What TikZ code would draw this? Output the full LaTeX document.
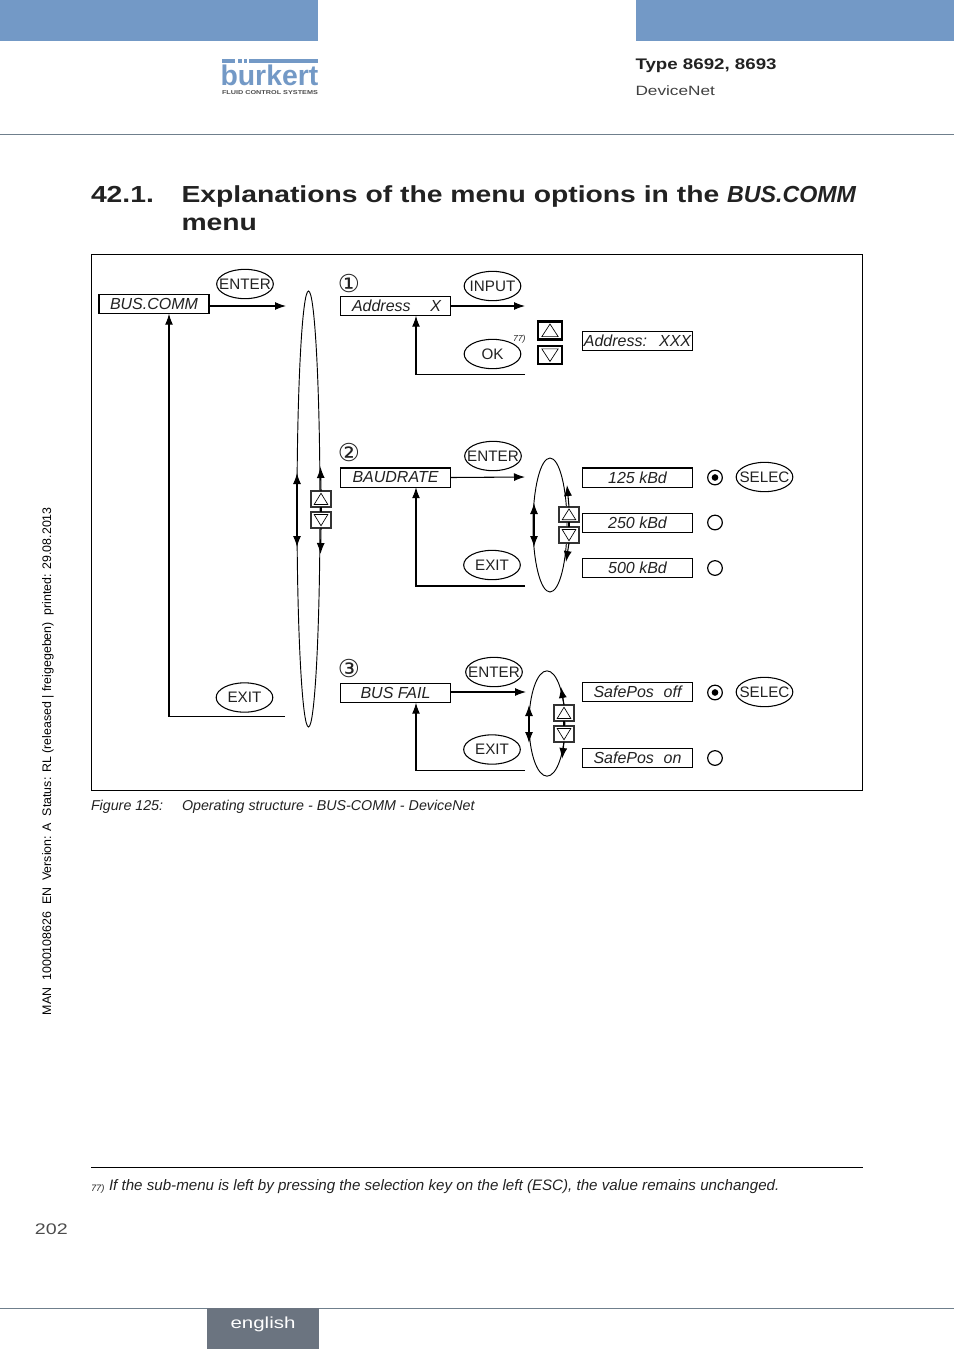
\documentclass[tikz,border=0pt]{standalone}
\usepackage{fontspec}
\usetikzlibrary{shapes.geometric,arrows.meta,calc}
\setmainfont{Liberation Sans}
\newfontfamily\wide[FakeStretch=1.28]{Liberation Sans}
\newfontfamily\widebold[FakeStretch=1.22]{Liberation Sans Bold}
\newfontfamily\boldit{Liberation Sans Bold Italic}
\newfontfamily\logofont{Liberation Sans Bold}
\newfontfamily\symfont{DejaVu Sans}
\definecolor{bk}{HTML}{7399C6}
\definecolor{tabgrey}{HTML}{6B7480}
\definecolor{rulec}{HTML}{6F7F8C}
\definecolor{txt}{HTML}{222222}
\newcommand{\zw}[1]{\raisebox{-.6pt}{\makebox[0pt]{#1}}}
\newcommand{\lt}[1]{\raisebox{-.7pt}{#1}}
\tikzset{
  x=.75pt,y=-.75pt,
  every node/.style={text=txt,inner sep=0pt,outer sep=0pt},
  lbl/.style={font=\fontsize{12}{14}\selectfont\itshape,draw=black,line width=1.1pt,fill=white,minimum width=82.5pt,minimum height=14.6pt},
  key/.style={ellipse,draw=black,line width=.8pt,fill=white,minimum width=42.5pt,minimum height=22pt,font=\fontsize{11.4}{14}\selectfont},
  btn/.style={draw=black!80,line width=1.3pt,fill=white},
  btnk/.style={draw=black,line width=1.6pt,fill=white},
  tri/.style={draw=black,line width=.5pt,fill=white},
  radio/.style={circle,draw=black,line width=.9pt,minimum size=11pt},
  dot/.style={circle,fill=black,minimum size=5pt},
  conn/.style={draw=black,line width=.8pt},
  arr/.style={conn,-{Latex[length=8.25pt,width=6pt]}},
  arrb/.style={conn,{Latex[length=8.25pt,width=6pt]}-{Latex[length=8.25pt,width=6pt]}},
  loopshape/.style={ellipse,draw=black,line width=.7pt},
  num/.style={font=\symfont\fontsize{18.5}{18.5}\selectfont},
  title/.style={anchor=base west,font=\widebold\fontsize{17.4}{20}\selectfont},
}
\newcommand{\upbtn}[6][btn]{% style, name, cx, cy, w, h
  \node[#1,minimum width=#5*.75pt,minimum height=#6*.75pt] (#2) at (#3,#4) {};
  \draw[tri] ($(#2.center)+(-.34*#5,.34*#6)$) -- ($(#2.center)+(.34*#5,.34*#6)$) -- ($(#2.center)+(0,-.36*#6)$) -- cycle;
}
\newcommand{\dnbtn}[6][btn]{%
  \node[#1,minimum width=#5*.75pt,minimum height=#6*.75pt] (#2) at (#3,#4) {};
  \draw[tri] ($(#2.center)+(-.34*#5,-.34*#6)$) -- ($(#2.center)+(.34*#5,-.34*#6)$) -- ($(#2.center)+(0,.36*#6)$) -- cycle;
}
\begin{document}
\begin{tikzpicture}
\useasboundingbox (0,0) rectangle (954,1350);
% header
\fill[bk] (0,0) rectangle (318,41);
\fill[bk] (636,0) rectangle (954,41);
\draw[rulec,line width=.6pt] (0,134.5) -- (954,134.5);
% logo
\node[anchor=base west,text=bk,font=\logofont\fontsize{21.3}{24}\selectfont] (logo) at (220.5,85.5) {bürkert};
\fill[white] (236,62) rectangle (258,69.5);
\fill[bk] (222,59) rectangle (235,63);
\fill[bk] (238,59) rectangle (241.5,63);
\fill[bk] (243.5,59) rectangle (247,63);
\fill[bk] (249,59) rectangle (318,63);
\node[anchor=base west,text=black!70,font=\wide\bfseries\fontsize{4.25}{5}\selectfont] (logosub) at (222,94) {FLUID CONTROL SYSTEMS};
% header right
\node[anchor=base west,font=\widebold\fontsize{11.5}{12}\selectfont] (type) at (635.5,69) {Type 8692, 8693};
\node[anchor=base west,font=\wide\fontsize{10.1}{12}\selectfont,text=black!75] (dn) at (635.5,95) {DeviceNet};
% title
\node[title] (t1) at (91,202) {42.1.};
\node[title] (t2) at (181.5,202) {Explanations of the menu options in the {\boldit BUS.COMM}};
\node[title] (t3) at (181.5,230) {menu};
% frame
\draw[black,line width=.7pt] (91.5,254.5) rectangle (862.5,790.5);
% loops
\node[loopshape,minimum width=17.25pt,minimum height=327pt] (loopA) at (308.5,509) {};
\node[loopshape,minimum width=25.5pt,minimum height=100.5pt] (loopB) at (550,525) {};
\node[loopshape,minimum width=27pt,minimum height=79pt] (loopC) at (547,723.5) {};
% coordinates
\coordinate (aUp) at (297,473);
\coordinate (aDn) at (297,547);
\coordinate (aRU) at (320.5,467);
\coordinate (aRD) at (320.5,554);
\coordinate (bUp) at (534,503);
\coordinate (bDn) at (534,547);
\coordinate (bRU) at (567,485);
\coordinate (bRD) at (566,562);
\coordinate (cUp) at (529,705);
\coordinate (cDn) at (529,743);
\coordinate (cRU) at (561,687);
\coordinate (cRD) at (562,759);
\coordinate (tBus) at (286,306);
\coordinate (tAddr) at (525,306);
\coordinate (tBaud) at (525,477);
\coordinate (tFail) at (526,692);
\coordinate (rBus) at (285,716.5);
\coordinate (rBusC) at (169,716.5);
\coordinate (rAddr) at (525,374.5);
\coordinate (rAddrC) at (416,374.5);
\coordinate (rBaud) at (525,586);
\coordinate (rBaudC) at (416,586);
\coordinate (rFail) at (525,770.5);
\coordinate (rFailC) at (416,770.5);
% label boxes
\node[lbl] (bus) at (154,304) {BUS.COMM};
\node[lbl] (addr) at (395.5,306) {\hspace{1.5pt}\makebox[66.75pt][s]{Address\hfill X}};
\node[lbl] (baud) at (395.5,477.5) {\lt{BAUDRATE}};
\node[lbl] (fail) at (395.5,693) {BUS FAIL};
\node[lbl] (v125) at (637.5,477.5) {\lt{125 kBd}};
\node[lbl] (v250) at (637.5,523) {\lt{250 kBd}};
\node[lbl] (v500) at (637.5,568) {\lt{500 kBd}};
\node[lbl] (off) at (637.5,692) {\makebox[66pt][s]{SafePos\hfill off}};
\node[lbl] (on) at (637.5,758) {\makebox[66pt][s]{SafePos\hfill on}};
\node[lbl] (addrv) at (637.5,341) {\lt{\makebox[80.5pt][s]{Address:\hfill XXX}}};
% connectors
\draw[arr] (bus.east |- tBus) -- (tBus);
\draw[arr] (addr.east) -- (tAddr);
\draw[arr] (baud.east) -- (tBaud);
\draw[arr] (fail.east |- tFail) -- (tFail);
\draw[arr] (rBus) -- (rBusC) -- (rBusC |- bus.south);
\draw[arr] (rAddr) -- (rAddrC) -- (rAddrC |- addr.south);
\draw[arr] (rBaud) -- (rBaudC) -- (rBaudC |- baud.south);
\draw[arr] (rFail) -- (rFailC) -- (rFailC |- fail.south);
\draw[arrb] (aUp) -- (aDn);
\draw[arrb] (bUp) -- (bDn);
\draw[arrb] (cUp) -- (cDn);
% buttons
\upbtn{bA}{321}{499}{20}{16}
\dnbtn{bB}{321}{520}{20}{16}
\upbtn{bC}{569}{514.5}{20}{15.5}
\dnbtn{bD}{569}{535}{20}{16}
\upbtn{bE}{564}{713}{20}{16}
\dnbtn{bF}{564}{734}{20}{16}
\upbtn[btnk]{bG}{550}{330.5}{24}{18}
\dnbtn[btnk]{bH}{550}{355}{24}{18}
\draw[conn] (bA.south) -- (bB.north);
\draw[conn] (bC.south) -- (bD.north);
\draw[conn] (bE.south) -- (bF.north);
\draw[arr] (bA.north) -- (aRU);
\draw[arr] (bB.south) -- (aRD);
\draw[arr] (bC.north) -- (bRU);
\draw[arr] (bD.south) -- (bRD);
\draw[arr] (bE.north) -- (cRU);
\draw[arr] (bF.south) -- (cRD);
% keys
\node[key] (kEnterA) at (245,284) {\zw{ENTER}};
\node[key] (kExitA) at (244.5,697.5) {\zw{EXIT}};
\node[key] (kInput) at (492.5,286) {\zw{INPUT}};
\node[key] (kOk) at (492.5,354) {\zw{OK}};
\node[anchor=base west,font=\fontsize{6.5}{7}\selectfont\itshape] (fn) at (513,341) {77)};
\node[key] (kEnterB) at (493,456) {\zw{ENTER}};
\node[key] (kExitB) at (492,565) {\zw{EXIT}};
\node[key] (kEnterC) at (494,672) {\zw{ENTER}};
\node[key] (kExitC) at (492,749.5) {\zw{EXIT}};
\node[key] (kSelA) at (764.5,477) {\zw{SELEC}};
\node[key] (kSelB) at (764.5,692) {\zw{SELEC}};
% numbers
\node[num] (n1) at (349,283.5) {①};
\node[num] (n2) at (349,452.5) {②};
\node[num] (n3) at (349,668.5) {③};
% radios
\node[radio] (r1) at (715,477.5) {};
\node[dot] (r1d) at (715,477.5) {};
\node[radio] (r2) at (715,522.5) {};
\node[radio] (r3) at (715,568) {};
\node[radio] (r4) at (715,692.5) {};
\node[dot] (r4d) at (715,692.5) {};
\node[radio] (r5) at (715,758) {};
% caption
\node[anchor=base west,font=\fontsize{10.7}{12}\selectfont\itshape] (cap1) at (91,810) {Figure 125:};
\node[anchor=base west,font=\fontsize{10.7}{12}\selectfont\itshape] (cap2) at (182,810) {Operating structure - BUS-COMM - DeviceNet};
% side
\node[rotate=90,anchor=base west,font=\fontsize{9.3}{10}\selectfont,text=black] (side) at (51,1015) {MAN\ \ 1000108626\ \ EN\ \ Version: A\ \ Status: RL (released | freigegeben)\ \ printed: 29.08.2013};
% footnote
\draw[black,line width=.6pt] (91,1167.5) -- (863,1167.5);
\node[anchor=base west,font=\fontsize{7}{8}\selectfont\itshape] (fnm) at (91,1191) {77)};
\node[anchor=base west,font=\fontsize{11.35}{13}\selectfont\itshape] (fnt) at (109,1190) {If the sub-menu is left by pressing the selection key on the left (ESC), the value remains unchanged.};
\node[anchor=base west,font=\wide\fontsize{11.5}{12}\selectfont,text=black!70] (pg) at (35,1234) {202};
% footer
\draw[rulec,line width=.6pt] (0,1308.5) -- (954,1308.5);
\fill[tabgrey] (207,1308) rectangle (319,1349);
\node[text=white,font=\wide\fontsize{12}{12}\selectfont] (eng) at (263,1324) {english};
\end{tikzpicture}
\end{document}
